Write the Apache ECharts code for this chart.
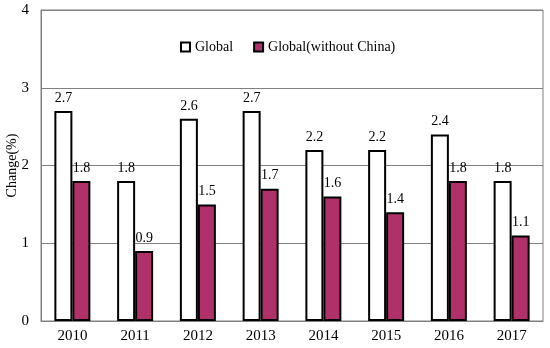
<!DOCTYPE html>
<html><head><meta charset="utf-8">
<script src="https://cdn.jsdelivr.net/npm/echarts@6/dist/echarts.min.js"></script>
<style>html,body{margin:0;padding:0;background:#fff}#c{width:550px;height:348px}</style>
</head><body><div id="c"></div>
<script>
const categories = ['2010','2011','2012','2013','2014','2015','2016','2017'];
const globalVals = [2.7,1.8,2.6,2.7,2.2,2.2,2.4,1.8];
const noChinaVals = [1.8,0.9,1.5,1.7,1.6,1.4,1.8,1.1];
const seriesNames = ['Global','Global(without China)'];
const F = '"Liberation Serif","Times New Roman",serif';
const chart = echarts.init(document.getElementById('c'));
const lbl = {show:true, position:'top', distance:6, color:'#000', fontFamily:F, fontSize:14};
chart.setOption({
  animation:false,
  grid:{left:41,right:7,top:10,bottom:27,show:true,borderColor:'#808080',borderWidth:1,
    containLabel:false,outerBoundsMode:'none'},
  legend:{top:35,left:175,itemGap:20,itemWidth:9,itemHeight:9,icon:'rect',
    textStyle:{fontFamily:F,fontSize:14,color:'#000'},
    data:seriesNames},
  xAxis:{type:'category',data:categories,boundaryGap:true,
    axisLine:{lineStyle:{color:'#808080'}},
    axisTick:{inside:true,length:5,lineStyle:{color:'#808080'}},
    axisLabel:{color:'#000',fontFamily:F,fontSize:15,margin:8}},
  yAxis:{type:'value',min:0,max:4,interval:1,name:'Change(%)',nameLocation:'middle',nameGap:22,
    nameMoveOverlap:false,
    nameTextStyle:{fontFamily:F,fontSize:14,color:'#000'},
    axisLine:{show:true,lineStyle:{color:'#808080'}},
    axisTick:{show:false},
    splitLine:{lineStyle:{color:'#808080'}},
    axisLabel:{color:'#000',fontFamily:F,fontSize:15,margin:12}},
  series:[
    {name:seriesNames[0],type:'bar',data:globalVals,barWidth:18,barGap:'0%',
      itemStyle:{color:'#fff',borderColor:'#000',borderWidth:2},label:lbl},
    {name:seriesNames[1],type:'bar',data:noChinaVals,barWidth:18,
      itemStyle:{color:'#B0306A',borderColor:'#000',borderWidth:2},label:lbl}
  ]
});
</script></body></html>
